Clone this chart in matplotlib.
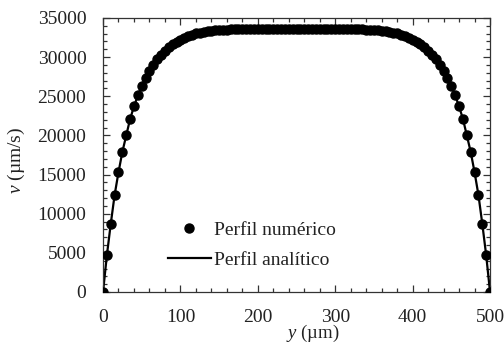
import matplotlib
matplotlib.use("Agg")
import matplotlib.pyplot as plt
from matplotlib.ticker import MultipleLocator

plt.rcParams['font.family'] = ['Liberation Serif', 'DejaVu Serif']
plt.rcParams['mathtext.fontset'] = 'custom'
plt.rcParams['mathtext.rm'] = 'Liberation Serif'
plt.rcParams['mathtext.it'] = 'Liberation Serif:italic'

# positions across the channel (µm)
y_pos = [0, 5, 10, 15, 20, 25, 30, 35, 40, 45, 50, 55, 60, 65, 70, 75, 80, 85, 90, 95,
         100, 105, 110, 115, 120, 125, 130, 135, 140, 145, 150, 155, 160, 165, 170, 175,
         180, 185, 190, 195, 200, 205, 210, 215, 220, 225, 230, 235, 240, 245, 250,
         255, 260, 265, 270, 275, 280, 285, 290, 295, 300, 305, 310, 315, 320, 325,
         330, 335, 340, 345, 350, 355, 360, 365, 370, 375, 380, 385, 390, 395, 400,
         405, 410, 415, 420, 425, 430, 435, 440, 445, 450, 455, 460, 465, 470, 475,
         480, 485, 490, 495, 500]

# numerical velocity profile (µm/s)
v_num = [0, 4700, 8700, 12400, 15300, 17900, 20000, 22100, 23700, 25100,
         26300, 27300, 28200, 29000, 29700, 30300, 30800, 31250, 31650, 31950,
         32250, 32500, 32700, 32880, 33020, 33140, 33240, 33310, 33370, 33420,
         33460, 33490, 33515, 33535, 33550, 33562, 33572, 33580, 33586, 33590,
         33593, 33595, 33597, 33598, 33599, 33600, 33600, 33600, 33600, 33600,
         33600,
         33600, 33600, 33600, 33600, 33600, 33599, 33598, 33597, 33595, 33593,
         33590, 33586, 33580, 33572, 33562, 33550, 33535, 33515, 33490, 33460,
         33420, 33370, 33310, 33240, 33140, 33020, 32880, 32700, 32500, 32250,
         31950, 31650, 31250, 30800, 30300, 29700, 29000, 28200, 27300, 26300,
         25100, 23700, 22100, 20000, 17900, 15300, 12400, 8700, 4700, 0]

# analytical profile (µm/s)
v_ana = list(v_num)

x_ticks = [0, 100, 200, 300, 400, 500]
y_ticks = [0, 5000, 10000, 15000, 20000, 25000, 30000, 35000]

fig = plt.figure(figsize=(5.04, 3.44), dpi=100)
ax = fig.add_axes([0.2044, 0.1512, 0.7679, 0.7965])

ax.plot(y_pos, v_num, 'o', color='black', markersize=6.5, label='Perfil numérico', zorder=3)
ax.plot(y_pos, v_ana, '-', color='black', linewidth=1.6, label='Perfil analítico', zorder=2)

ax.set_xlim(0, 500)
ax.set_ylim(0, 35000)
ax.set_xticks(x_ticks)
ax.set_yticks(y_ticks)
ax.xaxis.set_minor_locator(MultipleLocator(20))
ax.yaxis.set_minor_locator(MultipleLocator(1000))
ax.tick_params(which='both', direction='in', top=True, right=True,
               labelsize=14, colors='#333333', labelcolor='#222222')
ax.tick_params(which='major', length=5, width=0.9)
ax.tick_params(which='minor', length=3, width=0.9)
ax.tick_params(axis='y', which='major', pad=12)
ax.tick_params(axis='x', which='major', pad=12)
for s in ax.spines.values():
    s.set_linewidth(0.9)
    s.set_color('#333333')

ax.set_xlabel(r'$\mathit{y}$ (µm)', fontsize=13.5, color='#222222')
ax.xaxis.set_label_coords(0.543, -0.112)
ax.set_ylabel(r'$\mathit{v}$ (µm/s)', fontsize=14, color='#222222')
ax.yaxis.set_label_coords(-0.196, 0.48)

leg = ax.legend(loc='upper left', bbox_to_anchor=(0.168, 0.258), frameon=False,
                fontsize=14, handlelength=2.2, handletextpad=0.15, labelspacing=0.65,
                borderaxespad=0, borderpad=0)
for t in leg.get_texts():
    t.set_color('#222222')

fig.savefig('out.png', dpi=100)
